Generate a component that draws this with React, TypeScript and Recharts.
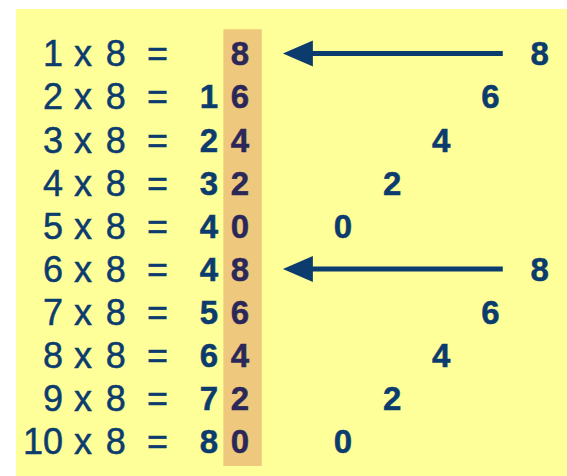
import React from 'react';
import {
  ScatterChart,
  Scatter,
  XAxis,
  YAxis,
  CartesianGrid,
  ReferenceArea,
  ReferenceLine,
} from 'recharts';

// the table: n x 8 = product
const multipliers = [1, 2, 3, 4, 5, 6, 7, 8, 9, 10];
const factor = 8;
const products = [8, 16, 24, 32, 40, 48, 56, 64, 72, 80];
// ones digits repeat 8, 6, 4, 2, 0 - plotted on the x axis at the right
const onesDigits = [8, 6, 4, 2, 0, 8, 6, 4, 2, 0];
const tensDigits = ['', '1', '2', '3', '4', '4', '5', '6', '7', '8'];

// column positions, in the same units as the ones-digit axis
const COL_MULT = -11.38;
const COL_X = -10.57;
const COL_FACTOR = -9.23;
const COL_EQ = -7.54;
const COL_TENS = -5.45;
const COL_ONES = -4.19;
const ARROW_FROM = 6.5;
const ARROW_TO = -2.44;

const NAVY = '#0c3c6e';
const PURPLE = '#2b2759';
const FONT = '"Liberation Sans", Arial, sans-serif';

const rows = multipliers.map((n, i) => ({
  row: i + 1,
  n,
  product: products[i],
  tens: tensDigits[i],
  ones: onesDigits[i],
}));

const textShape =
  (getText: (p: any) => string, opts: { size: number; weight?: string; color?: string; anchor?: string }) =>
  (props: any) => {
    const { cx, cy, payload } = props;
    const color = opts.color || NAVY;
    return (
      <text
        x={cx}
        y={cy}
        dy={opts.size * 0.36}
        textAnchor={opts.anchor || 'middle'}
        fontFamily={FONT}
        fontSize={opts.size}
        fontWeight={opts.weight || 'normal'}
        fill={color}
        stroke={color}
        strokeWidth={0.5}
      >
        {getText(payload)}
      </text>
    );
  };

const arrowShape = (props: any) => {
  const { x1, y1, x2, y2 } = props;
  const head = 30;
  return (
    <g>
      <line x1={x1} y1={y1} x2={x2 + head - 2} y2={y2} stroke={NAVY} strokeWidth={5} />
      <polygon points={`${x2},${y2} ${x2 + head},${y2 - 13} ${x2 + head},${y2 + 13}`} fill={NAVY} />
    </g>
  );
};

export default function App() {
  const col = (x: number) => rows.map((r) => ({ ...r, x, y: r.row }));
  const rightDigits = rows.map((r) => ({ ...r, x: r.ones, y: r.row }));
  const arrowRows = rows.filter((r) => r.ones === 8);

  return (
    <div style={{ position: 'absolute', left: 0, top: 0, width: 567, height: 476, background: '#fff' }}>
      <ScatterChart width={567} height={476} margin={{ top: 9, right: 0, bottom: 0, left: 16 }}>
        <CartesianGrid fill="#ffff99" stroke="none" horizontal={false} vertical={false} />
        <XAxis type="number" dataKey="x" domain={[-13.29, 9.11]} hide allowDataOverflow />
        <YAxis type="number" dataKey="y" domain={[-0.03, 10.8]} reversed hide allowDataOverflow />
        <ReferenceArea x1={-4.86} x2={-3.3} y1={0.44} y2={10.57} fill="#eec97d" fillOpacity={1} stroke="none" />
        {arrowRows.map((r) => (
          <ReferenceLine
            key={r.row}
            segment={[
              { x: ARROW_FROM, y: r.row },
              { x: ARROW_TO, y: r.row },
            ]}
            shape={arrowShape}
          />
        ))}
        <Scatter data={col(COL_MULT)} isAnimationActive={false} shape={textShape((p) => String(p.n), { size: 36, anchor: 'end' })} />
        <Scatter data={col(COL_X)} isAnimationActive={false} shape={textShape(() => 'x', { size: 36 })} />
        <Scatter data={col(COL_FACTOR)} isAnimationActive={false} shape={textShape(() => String(factor), { size: 36 })} />
        <Scatter data={col(COL_EQ)} isAnimationActive={false} shape={textShape(() => '=', { size: 36 })} />
        <Scatter data={col(COL_TENS)} isAnimationActive={false} shape={textShape((p) => p.tens, { size: 33, weight: 'bold' })} />
        <Scatter data={col(COL_ONES)} isAnimationActive={false} shape={textShape((p) => String(p.ones), { size: 33, weight: 'bold', color: PURPLE })} />
        <Scatter data={rightDigits} isAnimationActive={false} shape={textShape((p) => String(p.ones), { size: 33, weight: 'bold' })} />
      </ScatterChart>
    </div>
  );
}
